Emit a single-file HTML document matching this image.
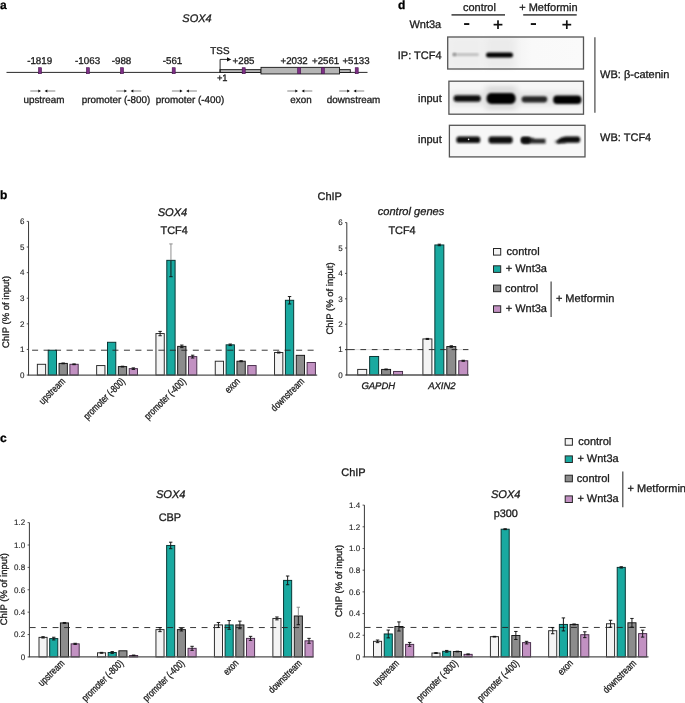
<!DOCTYPE html><html><head><meta charset="utf-8"><title>Figure</title><style>html,body{margin:0;padding:0;background:#fff}svg{display:block;font-family:"Liberation Sans", Arial, sans-serif;text-rendering:geometricPrecision}text{stroke:#1a1a1a;stroke-width:0.3px;paint-order:stroke}</style></head><body>
<svg width="685" height="703" viewBox="0 0 685 703">
<rect width="685" height="703" fill="#fff"/>
<text x="0" y="9" font-size="12" text-anchor="start" font-weight="bold" fill="#000">a</text>
<text x="182.3" y="22" font-size="11" text-anchor="start" font-style="italic" fill="#1a1a1a">SOX4</text>
<line x1="6.5" y1="72.4" x2="367.5" y2="72.4" stroke="#111" stroke-width="0.9"/>
<rect x="220" y="69.65" width="41" height="2.85" fill="#B5B5B5" stroke="#151515" stroke-width="0.9"/>
<rect x="339.5" y="69.65" width="10.8" height="2.85" fill="#B5B5B5" stroke="#151515" stroke-width="0.9"/>
<rect x="261" y="67.35" width="78.5" height="6.6" fill="#B5B5B5" stroke="#151515" stroke-width="0.9"/>
<rect x="38.5" y="67.7" width="3" height="6" fill="#7E2F86" stroke="#45134c" stroke-width="0.6"/>
<rect x="86.4" y="67.7" width="3" height="6" fill="#7E2F86" stroke="#45134c" stroke-width="0.6"/>
<rect x="120.5" y="67.7" width="3" height="6" fill="#7E2F86" stroke="#45134c" stroke-width="0.6"/>
<rect x="172.2" y="67.7" width="3" height="6" fill="#7E2F86" stroke="#45134c" stroke-width="0.6"/>
<rect x="242.2" y="67.7" width="3" height="6" fill="#7E2F86" stroke="#45134c" stroke-width="0.6"/>
<rect x="297.7" y="67.7" width="3" height="6" fill="#7E2F86" stroke="#45134c" stroke-width="0.6"/>
<rect x="321.3" y="67.7" width="3" height="6" fill="#7E2F86" stroke="#45134c" stroke-width="0.6"/>
<rect x="355.2" y="67.7" width="3" height="6" fill="#7E2F86" stroke="#45134c" stroke-width="0.6"/>
<text x="39.7" y="63.7" font-size="9.8" text-anchor="middle" fill="#1a1a1a">-1819</text>
<text x="87.6" y="63.7" font-size="9.8" text-anchor="middle" fill="#1a1a1a">-1063</text>
<text x="121.5" y="63.7" font-size="9.8" text-anchor="middle" fill="#1a1a1a">-988</text>
<text x="172.5" y="63.7" font-size="9.8" text-anchor="middle" fill="#1a1a1a">-561</text>
<text x="232.6" y="63.6" font-size="9.7" text-anchor="start" fill="#1a1a1a">+285</text>
<text x="280.5" y="63.6" font-size="9.7" text-anchor="start" fill="#1a1a1a">+2032</text>
<text x="312" y="63.6" font-size="9.7" text-anchor="start" fill="#1a1a1a">+2561</text>
<text x="342.4" y="63.6" font-size="9.7" text-anchor="start" fill="#1a1a1a">+5133</text>
<text x="210.3" y="53.5" font-size="9.9" text-anchor="start" fill="#1a1a1a">TSS</text>
<text x="216.9" y="81.0" font-size="9.4" text-anchor="start" fill="#1a1a1a">+1</text>
<path d="M220.1 72.4 V59.4 H228" fill="none" stroke="#111" stroke-width="0.9"/>
<path d="M227 57.2 L231.3 59.4 L227 61.6 Z" fill="#111"/>
<path d="M30.299999999999997 91 H39.3" stroke="#333" stroke-width="0.6"/><path d="M38.3 89.5 L41.0 91 L38.3 92.5 Z" fill="#111"/>
<path d="M55.3 91 H46.3" stroke="#333" stroke-width="0.6"/><path d="M47.3 89.5 L44.599999999999994 91 L47.3 92.5 Z" fill="#111"/>
<path d="M116.30000000000001 91 H125.30000000000001" stroke="#333" stroke-width="0.6"/><path d="M124.30000000000001 89.5 L127.00000000000001 91 L124.30000000000001 92.5 Z" fill="#111"/>
<path d="M141.3 91 H132.3" stroke="#333" stroke-width="0.6"/><path d="M133.3 89.5 L130.60000000000002 91 L133.3 92.5 Z" fill="#111"/>
<path d="M171.9 91 H180.9" stroke="#333" stroke-width="0.6"/><path d="M179.9 89.5 L182.6 91 L179.9 92.5 Z" fill="#111"/>
<path d="M196.9 91 H187.9" stroke="#333" stroke-width="0.6"/><path d="M188.9 89.5 L186.20000000000002 91 L188.9 92.5 Z" fill="#111"/>
<path d="M287.3 91 H296.3" stroke="#333" stroke-width="0.6"/><path d="M295.3 89.5 L298.0 91 L295.3 92.5 Z" fill="#111"/>
<path d="M312.3 91 H303.3" stroke="#333" stroke-width="0.6"/><path d="M304.3 89.5 L301.6 91 L304.3 92.5 Z" fill="#111"/>
<path d="M339.2 91 H348.2" stroke="#333" stroke-width="0.6"/><path d="M347.2 89.5 L349.9 91 L347.2 92.5 Z" fill="#111"/>
<path d="M364.2 91 H355.2" stroke="#333" stroke-width="0.6"/><path d="M356.2 89.5 L353.5 91 L356.2 92.5 Z" fill="#111"/>
<text x="44" y="102.7" font-size="9.85" text-anchor="middle" fill="#1a1a1a">upstream</text>
<text x="116" y="102.7" font-size="9.85" text-anchor="middle" fill="#1a1a1a">promoter (-800)</text>
<text x="190" y="102.7" font-size="9.85" text-anchor="middle" fill="#1a1a1a">promoter (-400)</text>
<text x="301" y="102.7" font-size="9.85" text-anchor="middle" fill="#1a1a1a">exon</text>
<text x="353.5" y="102.7" font-size="9.85" text-anchor="middle" fill="#1a1a1a">downstream</text>
<defs>
<linearGradient id="g1" x1="0" x2="1" y1="0" y2="0"><stop offset="0" stop-color="#F1F1F1"/><stop offset="0.5" stop-color="#F4F4F4"/><stop offset="0.62" stop-color="#F9F9F9"/><stop offset="1" stop-color="#FAFAFA"/></linearGradient>
<filter id="b1" x="-20%" y="-50%" width="140%" height="200%"><feGaussianBlur stdDeviation="1.1 0.9"/></filter>
<filter id="b2" x="-20%" y="-50%" width="140%" height="200%"><feGaussianBlur stdDeviation="1.4 1.2"/></filter>
<filter id="b4" x="-20%" y="-50%" width="140%" height="200%"><feGaussianBlur stdDeviation="0.9 0.8"/></filter>
<filter id="b5" x="-20%" y="-50%" width="140%" height="200%"><feGaussianBlur stdDeviation="1.1 1.0"/></filter>
<filter id="b3" x="-30%" y="-30%" width="160%" height="160%"><feGaussianBlur stdDeviation="3 2"/></filter>
</defs>
<text x="398" y="9.2" font-size="12" text-anchor="start" font-weight="bold" fill="#000">d</text>
<text x="462.9" y="11.2" font-size="11" text-anchor="start" fill="#1a1a1a">control</text>
<text x="519.2" y="11.2" font-size="11" text-anchor="start" fill="#1a1a1a">+ Metformin</text>
<line x1="451.5" y1="14.9" x2="505" y2="14.9" stroke="#555" stroke-width="1.6"/>
<line x1="523.2" y1="14.9" x2="576.7" y2="14.9" stroke="#555" stroke-width="1.6"/>
<text x="409.4" y="27.9" font-size="11" text-anchor="start" fill="#1a1a1a">Wnt3a</text>
<rect x="464.09999999999997" y="23.1" width="5.2" height="1.9" fill="#111"/>
<rect x="530.8" y="23.1" width="5.2" height="1.9" fill="#111"/>
<rect x="493.6" y="23.8" width="8.8" height="1.7" fill="#111"/><rect x="497.15" y="20.3" width="1.7" height="8.7" fill="#111"/>
<rect x="562.4" y="23.8" width="8.8" height="1.7" fill="#111"/><rect x="565.9499999999999" y="20.3" width="1.7" height="8.7" fill="#111"/>
<rect x="447.7" y="37" width="135.8" height="32" fill="url(#g1)"/>
<rect x="450" y="38" width="32" height="30" fill="#EEEEEE" filter="url(#b3)"/>
<rect x="485" y="38" width="30" height="30" fill="#EBEBEB" filter="url(#b3)"/>
<rect x="452" y="53.3" width="27" height="2.6" rx="1.3" fill="#BDBDBD" filter="url(#b1)"/>
<ellipse cx="454.5" cy="54.5" rx="1.6" ry="1.4" fill="#888" filter="url(#b1)"/>
<rect x="486" y="52.4" width="27" height="5" rx="2.5" fill="#050505" filter="url(#b1)"/>
<rect x="447.7" y="37" width="135.8" height="32" fill="none" stroke="#555" stroke-width="1.3"/>
<rect x="448.9" y="81.2" width="134.6" height="33" fill="#F6F6F6"/>
<rect x="452" y="91" width="129" height="15" fill="#E6E6E6" filter="url(#b3)"/>
<rect x="486" y="86" width="30" height="24" fill="#DADADA" filter="url(#b3)"/>
<rect x="453.6" y="95.2" width="27.2" height="6.6" rx="3" fill="#0a0a0a" filter="url(#b5)"/>
<rect x="486.6" y="93.1" width="29" height="10.8" rx="4.6" fill="#000" filter="url(#b5)"/>
<rect x="521.6" y="96.2" width="25.6" height="6.2" rx="2.8" fill="#262626" filter="url(#b5)"/>
<rect x="553.2" y="95.4" width="28.2" height="8.6" rx="3.8" fill="#050505" filter="url(#b5)"/>
<rect x="448.9" y="81.2" width="134.6" height="33" fill="none" stroke="#555" stroke-width="1.3"/>
<rect x="449.4" y="125.3" width="135.6" height="31.6" fill="#F7F7F7"/>
<rect x="456.4" y="136.4" width="23.8" height="6.6" rx="2.6" fill="#0a0a0a" filter="url(#b4)"/>
<circle cx="468.6" cy="139.4" r="0.8" fill="#e8e8e8"/>
<rect x="488.6" y="136.5" width="24" height="6.9" rx="2.6" fill="#0a0a0a" filter="url(#b4)"/>
<path d="M521.5 137.2 h8 q3 0 5.5 1.6 h10.5 v4.8 h-21.5 q-3 0 -3 -3 z" fill="#2a2a2a" filter="url(#b4)"/>
<rect x="521.3" y="137" width="9" height="6.6" rx="2.5" fill="#0a0a0a" filter="url(#b4)"/>
<rect x="555" y="140" width="11" height="3.6" rx="1.5" fill="#777" filter="url(#b2)"/>
<path d="M557 141.4 q3 -4.6 9 -4.9 h11.6 q2.6 0 2.6 3 q0 3.2 -2.6 3.2 h-14.6 q-4 0 -5 1 z" fill="#0c0c0c" filter="url(#b4)"/>
<rect x="449.4" y="125.3" width="135.6" height="31.6" fill="none" stroke="#555" stroke-width="1.3"/>
<text x="441.6" y="58.5" font-size="11" text-anchor="end" fill="#1a1a1a">IP: TCF4</text>
<text x="441.8" y="101.5" font-size="11" text-anchor="end" fill="#1a1a1a">input</text>
<text x="441.8" y="143.1" font-size="11" text-anchor="end" fill="#1a1a1a">input</text>
<line x1="594.9" y1="37.3" x2="594.9" y2="112.7" stroke="#555" stroke-width="1.3"/>
<text x="600.1" y="77.6" font-size="11" text-anchor="start" fill="#1a1a1a">WB: β-catenin</text>
<text x="600.1" y="140.9" font-size="11" text-anchor="start" fill="#1a1a1a">WB: TCF4</text>
<text x="0" y="198.6" font-size="12" text-anchor="start" font-weight="bold" fill="#000">b</text>
<text x="317.5" y="199.9" font-size="11" text-anchor="start" fill="#1a1a1a">ChIP</text>
<text x="157.7" y="215.5" font-size="11.1" text-anchor="start" font-style="italic" fill="#1a1a1a">SOX4</text>
<text x="160.5" y="234.3" font-size="10.9" text-anchor="start" fill="#1a1a1a">TCF4</text>
<rect x="37.35" y="364.29" width="8.30" height="10.76" fill="#F4F4F4" stroke="#262626" stroke-width="0.95"/>
<rect x="48.20" y="350.21" width="8.30" height="24.84" fill="#19A9A0" stroke="#04302e" stroke-width="0.95"/>
<rect x="59.05" y="363.40" width="8.30" height="11.65" fill="#8C8C8C" stroke="#141414" stroke-width="0.95"/>
<rect x="69.90" y="364.29" width="8.30" height="10.76" fill="#C291C2" stroke="#452a48" stroke-width="0.95"/>
<rect x="96.65" y="365.57" width="8.30" height="9.48" fill="#F4F4F4" stroke="#262626" stroke-width="0.95"/>
<rect x="107.50" y="342.27" width="8.30" height="32.78" fill="#19A9A0" stroke="#04302e" stroke-width="0.95"/>
<rect x="118.35" y="366.60" width="8.30" height="8.45" fill="#8C8C8C" stroke="#141414" stroke-width="0.95"/>
<rect x="129.20" y="368.65" width="8.30" height="6.40" fill="#C291C2" stroke="#452a48" stroke-width="0.95"/>
<rect x="155.95" y="333.56" width="8.30" height="41.49" fill="#F4F4F4" stroke="#262626" stroke-width="0.95"/>
<rect x="166.80" y="260.32" width="8.30" height="114.73" fill="#19A9A0" stroke="#04302e" stroke-width="0.95"/>
<rect x="177.65" y="346.37" width="8.30" height="28.68" fill="#8C8C8C" stroke="#141414" stroke-width="0.95"/>
<rect x="188.50" y="356.61" width="8.30" height="18.44" fill="#C291C2" stroke="#452a48" stroke-width="0.95"/>
<rect x="215.25" y="361.22" width="8.30" height="13.83" fill="#F4F4F4" stroke="#262626" stroke-width="0.95"/>
<rect x="226.10" y="344.83" width="8.30" height="30.22" fill="#19A9A0" stroke="#04302e" stroke-width="0.95"/>
<rect x="236.95" y="361.22" width="8.30" height="13.83" fill="#8C8C8C" stroke="#141414" stroke-width="0.95"/>
<rect x="247.80" y="365.57" width="8.30" height="9.48" fill="#C291C2" stroke="#452a48" stroke-width="0.95"/>
<rect x="274.55" y="352.51" width="8.30" height="22.54" fill="#F4F4F4" stroke="#262626" stroke-width="0.95"/>
<rect x="285.40" y="300.27" width="8.30" height="74.78" fill="#19A9A0" stroke="#04302e" stroke-width="0.95"/>
<rect x="296.25" y="355.33" width="8.30" height="19.72" fill="#8C8C8C" stroke="#141414" stroke-width="0.95"/>
<rect x="307.10" y="362.50" width="8.30" height="12.55" fill="#C291C2" stroke="#452a48" stroke-width="0.95"/>
<line x1="32.10" y1="350.21" x2="316.7" y2="350.21" stroke="#222" stroke-width="0.9" stroke-dasharray="6 5.48"/>
<path d="M63.20 363.01 V363.40 M61.50 363.01 H64.90" stroke="#111" stroke-width="0.95" fill="none"/>
<path d="M63.20 363.40 V363.78 M61.50 363.78 H64.90" stroke="#111" stroke-width="0.95" fill="none"/>
<path d="M74.05 363.91 V364.29 M72.35 363.91 H75.75" stroke="#111" stroke-width="0.95" fill="none"/>
<path d="M74.05 364.29 V364.68 M72.35 364.68 H75.75" stroke="#111" stroke-width="0.95" fill="none"/>
<path d="M122.50 366.21 V366.60 M120.80 366.21 H124.20" stroke="#111" stroke-width="0.95" fill="none"/>
<path d="M122.50 366.60 V366.98 M120.80 366.98 H124.20" stroke="#111" stroke-width="0.95" fill="none"/>
<path d="M133.35 367.88 V368.65 M131.65 367.88 H135.05" stroke="#111" stroke-width="0.95" fill="none"/>
<path d="M133.35 368.65 V369.42 M131.65 369.42 H135.05" stroke="#111" stroke-width="0.95" fill="none"/>
<path d="M160.10 331.38 V333.56 M158.40 331.38 H161.80" stroke="#111" stroke-width="0.95" fill="none"/>
<path d="M160.10 333.56 V335.74 M158.40 335.74 H161.80" stroke="#111" stroke-width="0.95" fill="none"/>
<path d="M170.95 243.93 V260.32 M169.25 243.93 H172.65" stroke="#8a8a8a" stroke-width="0.95" fill="none"/>
<path d="M170.95 260.32 V276.71 M169.25 276.71 H172.65" stroke="#111" stroke-width="0.95" fill="none"/>
<path d="M181.80 345.09 V346.37 M180.10 345.09 H183.50" stroke="#111" stroke-width="0.95" fill="none"/>
<path d="M181.80 346.37 V347.65 M180.10 347.65 H183.50" stroke="#111" stroke-width="0.95" fill="none"/>
<path d="M192.65 355.20 V356.61 M190.95 355.20 H194.35" stroke="#111" stroke-width="0.95" fill="none"/>
<path d="M192.65 356.61 V358.02 M190.95 358.02 H194.35" stroke="#111" stroke-width="0.95" fill="none"/>
<path d="M230.25 344.06 V344.83 M228.55 344.06 H231.95" stroke="#111" stroke-width="0.95" fill="none"/>
<path d="M230.25 344.83 V345.60 M228.55 345.60 H231.95" stroke="#111" stroke-width="0.95" fill="none"/>
<path d="M241.10 360.71 V361.22 M239.40 360.71 H242.80" stroke="#111" stroke-width="0.95" fill="none"/>
<path d="M241.10 361.22 V361.73 M239.40 361.73 H242.80" stroke="#111" stroke-width="0.95" fill="none"/>
<path d="M278.70 352.00 V352.51 M277.00 352.00 H280.40" stroke="#111" stroke-width="0.95" fill="none"/>
<path d="M278.70 352.51 V353.03 M277.00 353.03 H280.40" stroke="#111" stroke-width="0.95" fill="none"/>
<path d="M289.55 296.56 V300.27 M287.85 296.56 H291.25" stroke="#111" stroke-width="0.95" fill="none"/>
<path d="M289.55 300.27 V303.98 M287.85 303.98 H291.25" stroke="#111" stroke-width="0.95" fill="none"/>
<path d="M27.900000000000002 375.05 H317.2" fill="none" stroke="#505050" stroke-width="1.3"/>
<path d="M28.55 221.39 V375.05" fill="none" stroke="#383838" stroke-width="1"/>
<line x1="26.75" y1="375.05" x2="28.55" y2="375.05" stroke="#383838" stroke-width="0.85"/>
<text x="24.35" y="377.90" font-size="8" text-anchor="end" fill="#222" style="stroke-width:0.12px">0</text>
<line x1="26.75" y1="349.44" x2="28.55" y2="349.44" stroke="#383838" stroke-width="0.85"/>
<text x="24.35" y="352.29" font-size="8" text-anchor="end" fill="#222" style="stroke-width:0.12px">1</text>
<line x1="26.75" y1="323.83" x2="28.55" y2="323.83" stroke="#383838" stroke-width="0.85"/>
<text x="24.35" y="326.68" font-size="8" text-anchor="end" fill="#222" style="stroke-width:0.12px">2</text>
<line x1="26.75" y1="298.22" x2="28.55" y2="298.22" stroke="#383838" stroke-width="0.85"/>
<text x="24.35" y="301.07" font-size="8" text-anchor="end" fill="#222" style="stroke-width:0.12px">3</text>
<line x1="26.75" y1="272.61" x2="28.55" y2="272.61" stroke="#383838" stroke-width="0.85"/>
<text x="24.35" y="275.46" font-size="8" text-anchor="end" fill="#222" style="stroke-width:0.12px">4</text>
<line x1="26.75" y1="247.00" x2="28.55" y2="247.00" stroke="#383838" stroke-width="0.85"/>
<text x="24.35" y="249.85" font-size="8" text-anchor="end" fill="#222" style="stroke-width:0.12px">5</text>
<line x1="26.75" y1="221.39" x2="28.55" y2="221.39" stroke="#383838" stroke-width="0.85"/>
<text x="24.35" y="224.24" font-size="8" text-anchor="end" fill="#222" style="stroke-width:0.12px">6</text>
<text transform="translate(9,312) rotate(-90)" font-size="9.5" text-anchor="middle" fill="#1a1a1a">ChIP (% of input)</text>
<text transform="translate(65.9,381.9) rotate(-45) scale(0.78,1)" font-size="10" text-anchor="end" fill="#1a1a1a">upstream</text>
<text transform="translate(125.7,381.9) rotate(-45) scale(0.78,1)" font-size="10" text-anchor="end" fill="#1a1a1a">promoter (-800)</text>
<text transform="translate(186.5,381.9) rotate(-45) scale(0.78,1)" font-size="10" text-anchor="end" fill="#1a1a1a">promoter (-400)</text>
<text transform="translate(240.6,381.9) rotate(-45) scale(0.78,1)" font-size="10" text-anchor="end" fill="#1a1a1a">exon</text>
<text transform="translate(304.9,381.9) rotate(-45) scale(0.78,1)" font-size="10" text-anchor="end" fill="#1a1a1a">downstream</text>
<text x="377.7" y="215.3" font-size="11.1" text-anchor="start" font-style="italic" fill="#1a1a1a">control genes</text>
<text x="388.4" y="234.4" font-size="10.9" text-anchor="start" fill="#1a1a1a">TCF4</text>
<line x1="346.8" y1="349.6" x2="469" y2="349.6" stroke="#c4c4c4" stroke-width="0.6"/>
<rect x="357.70" y="369.41" width="9.00" height="5.59" fill="#F4F4F4" stroke="#262626" stroke-width="0.95"/>
<rect x="369.65" y="356.46" width="9.00" height="18.54" fill="#19A9A0" stroke="#04302e" stroke-width="0.95"/>
<rect x="381.60" y="369.41" width="9.00" height="5.59" fill="#8C8C8C" stroke="#141414" stroke-width="0.95"/>
<rect x="393.55" y="371.44" width="9.00" height="3.56" fill="#C291C2" stroke="#452a48" stroke-width="0.95"/>
<rect x="422.90" y="338.93" width="9.00" height="36.07" fill="#F4F4F4" stroke="#262626" stroke-width="0.95"/>
<rect x="434.85" y="244.95" width="9.00" height="130.05" fill="#19A9A0" stroke="#04302e" stroke-width="0.95"/>
<rect x="446.80" y="346.55" width="9.00" height="28.45" fill="#8C8C8C" stroke="#141414" stroke-width="0.95"/>
<rect x="458.75" y="360.78" width="9.00" height="14.22" fill="#C291C2" stroke="#452a48" stroke-width="0.95"/>
<line x1="349.00" y1="349.60" x2="468.3" y2="349.60" stroke="#222" stroke-width="0.9" stroke-dasharray="5.7 5.7"/>
<path d="M386.10 369.03 V369.41 M384.40 369.03 H387.80" stroke="#111" stroke-width="0.95" fill="none"/>
<path d="M386.10 369.41 V369.79 M384.40 369.79 H387.80" stroke="#111" stroke-width="0.95" fill="none"/>
<path d="M427.40 338.42 V338.93 M425.70 338.42 H429.10" stroke="#111" stroke-width="0.95" fill="none"/>
<path d="M427.40 338.93 V339.44 M425.70 339.44 H429.10" stroke="#111" stroke-width="0.95" fill="none"/>
<path d="M439.35 244.19 V244.95 M437.65 244.19 H441.05" stroke="#111" stroke-width="0.95" fill="none"/>
<path d="M439.35 244.95 V245.71 M437.65 245.71 H441.05" stroke="#111" stroke-width="0.95" fill="none"/>
<path d="M451.30 345.79 V346.55 M449.60 345.79 H453.00" stroke="#111" stroke-width="0.95" fill="none"/>
<path d="M451.30 346.55 V347.31 M449.60 347.31 H453.00" stroke="#111" stroke-width="0.95" fill="none"/>
<path d="M463.25 360.27 V360.78 M461.55 360.27 H464.95" stroke="#111" stroke-width="0.95" fill="none"/>
<path d="M463.25 360.78 V361.28 M461.55 361.28 H464.95" stroke="#111" stroke-width="0.95" fill="none"/>
<path d="M346.15000000000003 375.0 H468.8" fill="none" stroke="#505050" stroke-width="1.3"/>
<path d="M346.8 222.60 V375.0" fill="none" stroke="#383838" stroke-width="1"/>
<line x1="345.0" y1="375.00" x2="346.8" y2="375.00" stroke="#383838" stroke-width="0.85"/>
<text x="342.6" y="377.85" font-size="8" text-anchor="end" fill="#222" style="stroke-width:0.12px">0</text>
<line x1="345.0" y1="349.60" x2="346.8" y2="349.60" stroke="#383838" stroke-width="0.85"/>
<text x="342.6" y="352.45" font-size="8" text-anchor="end" fill="#222" style="stroke-width:0.12px">1</text>
<line x1="345.0" y1="324.20" x2="346.8" y2="324.20" stroke="#383838" stroke-width="0.85"/>
<text x="342.6" y="327.05" font-size="8" text-anchor="end" fill="#222" style="stroke-width:0.12px">2</text>
<line x1="345.0" y1="298.80" x2="346.8" y2="298.80" stroke="#383838" stroke-width="0.85"/>
<text x="342.6" y="301.65" font-size="8" text-anchor="end" fill="#222" style="stroke-width:0.12px">3</text>
<line x1="345.0" y1="273.40" x2="346.8" y2="273.40" stroke="#383838" stroke-width="0.85"/>
<text x="342.6" y="276.25" font-size="8" text-anchor="end" fill="#222" style="stroke-width:0.12px">4</text>
<line x1="345.0" y1="248.00" x2="346.8" y2="248.00" stroke="#383838" stroke-width="0.85"/>
<text x="342.6" y="250.85" font-size="8" text-anchor="end" fill="#222" style="stroke-width:0.12px">5</text>
<line x1="345.0" y1="222.60" x2="346.8" y2="222.60" stroke="#383838" stroke-width="0.85"/>
<text x="342.6" y="225.45" font-size="8" text-anchor="end" fill="#222" style="stroke-width:0.12px">6</text>
<text transform="translate(333,298.5) rotate(-90)" font-size="9.5" text-anchor="middle" fill="#1a1a1a">ChIP (% of input)</text>
<text x="378.3" y="388.5" font-size="9.5" text-anchor="middle" font-style="italic" fill="#1a1a1a">GAPDH</text>
<text x="441.9" y="388.5" font-size="9.5" text-anchor="middle" font-style="italic" fill="#1a1a1a">AXIN2</text>
<line x1="345.3" y1="349.6" x2="349" y2="349.6" stroke="#333" stroke-width="0.95"/>
<rect x="493.5" y="248.5" width="7.2" height="6.6" fill="#F4F4F4" stroke="#262626" stroke-width="1"/>
<text x="506.6" y="254.9" font-size="11" text-anchor="start" fill="#1a1a1a">control</text>
<rect x="493.5" y="265.8" width="7.2" height="6.6" fill="#19A9A0" stroke="#262626" stroke-width="1"/>
<text x="505.7" y="272.2" font-size="11" text-anchor="start" fill="#1a1a1a">+ Wnt3a</text>
<rect x="493.5" y="285.1" width="7.2" height="6.6" fill="#8C8C8C" stroke="#262626" stroke-width="1"/>
<text x="505.1" y="291.5" font-size="11" text-anchor="start" fill="#1a1a1a">control</text>
<rect x="493.5" y="305.8" width="7.2" height="6.6" fill="#C291C2" stroke="#262626" stroke-width="1"/>
<text x="505.7" y="312.2" font-size="11" text-anchor="start" fill="#1a1a1a">+ Wnt3a</text>
<line x1="551.1" y1="281.5" x2="551.1" y2="317.1" stroke="#444" stroke-width="1.2"/>
<text x="555.9" y="302.1" font-size="11" text-anchor="start" fill="#1a1a1a">+ Metformin</text>
<text x="0" y="442" font-size="12" text-anchor="start" font-weight="bold" fill="#000">c</text>
<text x="341.2" y="475.5" font-size="11" text-anchor="start" fill="#1a1a1a">ChIP</text>
<text x="155.9" y="497.5" font-size="11.1" text-anchor="start" font-style="italic" fill="#1a1a1a">SOX4</text>
<text x="158.7" y="521.3" font-size="10.9" text-anchor="start" fill="#1a1a1a">CBP</text>
<rect x="39.00" y="637.36" width="8.10" height="19.59" fill="#F4F4F4" stroke="#262626" stroke-width="0.95"/>
<rect x="49.70" y="638.59" width="8.10" height="18.36" fill="#19A9A0" stroke="#04302e" stroke-width="0.95"/>
<rect x="60.40" y="622.92" width="8.10" height="34.03" fill="#8C8C8C" stroke="#141414" stroke-width="0.95"/>
<rect x="71.10" y="643.85" width="8.10" height="13.10" fill="#C291C2" stroke="#452a48" stroke-width="0.95"/>
<rect x="97.47" y="652.81" width="8.10" height="4.14" fill="#F4F4F4" stroke="#262626" stroke-width="0.95"/>
<rect x="108.17" y="652.47" width="8.10" height="4.48" fill="#19A9A0" stroke="#04302e" stroke-width="0.95"/>
<rect x="118.87" y="650.79" width="8.10" height="6.16" fill="#8C8C8C" stroke="#141414" stroke-width="0.95"/>
<rect x="129.57" y="655.49" width="8.10" height="1.46" fill="#C291C2" stroke="#452a48" stroke-width="0.95"/>
<rect x="155.94" y="629.63" width="8.10" height="27.32" fill="#F4F4F4" stroke="#262626" stroke-width="0.95"/>
<rect x="166.64" y="545.45" width="8.10" height="111.50" fill="#19A9A0" stroke="#04302e" stroke-width="0.95"/>
<rect x="177.34" y="629.63" width="8.10" height="27.32" fill="#8C8C8C" stroke="#141414" stroke-width="0.95"/>
<rect x="188.04" y="648.33" width="8.10" height="8.62" fill="#C291C2" stroke="#452a48" stroke-width="0.95"/>
<rect x="214.41" y="624.93" width="8.10" height="32.02" fill="#F4F4F4" stroke="#262626" stroke-width="0.95"/>
<rect x="225.11" y="624.93" width="8.10" height="32.02" fill="#19A9A0" stroke="#04302e" stroke-width="0.95"/>
<rect x="235.81" y="624.93" width="8.10" height="32.02" fill="#8C8C8C" stroke="#141414" stroke-width="0.95"/>
<rect x="246.51" y="638.37" width="8.10" height="18.58" fill="#C291C2" stroke="#452a48" stroke-width="0.95"/>
<rect x="272.88" y="618.44" width="8.10" height="38.51" fill="#F4F4F4" stroke="#262626" stroke-width="0.95"/>
<rect x="283.58" y="580.38" width="8.10" height="76.57" fill="#19A9A0" stroke="#04302e" stroke-width="0.95"/>
<rect x="294.28" y="615.98" width="8.10" height="40.97" fill="#8C8C8C" stroke="#141414" stroke-width="0.95"/>
<rect x="304.98" y="640.83" width="8.10" height="16.12" fill="#C291C2" stroke="#452a48" stroke-width="0.95"/>
<line x1="29.70" y1="627.56" x2="313.0" y2="627.56" stroke="#222" stroke-width="0.9" stroke-dasharray="5.9 5.56"/>
<path d="M43.05 636.69 V637.36 M41.35 636.69 H44.75" stroke="#111" stroke-width="0.95" fill="none"/>
<path d="M43.05 637.36 V638.03 M41.35 638.03 H44.75" stroke="#111" stroke-width="0.95" fill="none"/>
<path d="M53.75 637.25 V638.59 M52.05 637.25 H55.45" stroke="#111" stroke-width="0.95" fill="none"/>
<path d="M53.75 638.59 V639.93 M52.05 639.93 H55.45" stroke="#111" stroke-width="0.95" fill="none"/>
<path d="M64.45 622.47 V622.92 M62.75 622.47 H66.15" stroke="#111" stroke-width="0.95" fill="none"/>
<path d="M64.45 622.92 V623.37 M62.75 623.37 H66.15" stroke="#111" stroke-width="0.95" fill="none"/>
<path d="M75.15 643.29 V643.85 M73.45 643.29 H76.85" stroke="#111" stroke-width="0.95" fill="none"/>
<path d="M75.15 643.85 V644.41 M73.45 644.41 H76.85" stroke="#111" stroke-width="0.95" fill="none"/>
<path d="M101.52 652.36 V652.81 M99.82 652.36 H103.22" stroke="#111" stroke-width="0.95" fill="none"/>
<path d="M101.52 652.81 V653.26 M99.82 653.26 H103.22" stroke="#111" stroke-width="0.95" fill="none"/>
<path d="M112.22 651.58 V652.47 M110.52 651.58 H113.92" stroke="#111" stroke-width="0.95" fill="none"/>
<path d="M112.22 652.47 V653.37 M110.52 653.37 H113.92" stroke="#111" stroke-width="0.95" fill="none"/>
<path d="M133.62 655.05 V655.49 M131.92 655.05 H135.32" stroke="#111" stroke-width="0.95" fill="none"/>
<path d="M133.62 655.49 V655.94 M131.92 655.94 H135.32" stroke="#111" stroke-width="0.95" fill="none"/>
<path d="M159.99 627.62 V629.63 M158.29 627.62 H161.69" stroke="#111" stroke-width="0.95" fill="none"/>
<path d="M159.99 629.63 V631.65 M158.29 631.65 H161.69" stroke="#111" stroke-width="0.95" fill="none"/>
<path d="M170.69 542.20 V545.45 M168.99 542.20 H172.39" stroke="#111" stroke-width="0.95" fill="none"/>
<path d="M170.69 545.45 V548.69 M168.99 548.69 H172.39" stroke="#111" stroke-width="0.95" fill="none"/>
<path d="M181.39 628.29 V629.63 M179.69 628.29 H183.09" stroke="#111" stroke-width="0.95" fill="none"/>
<path d="M181.39 629.63 V630.98 M179.69 630.98 H183.09" stroke="#111" stroke-width="0.95" fill="none"/>
<path d="M192.09 646.31 V648.33 M190.39 646.31 H193.79" stroke="#111" stroke-width="0.95" fill="none"/>
<path d="M192.09 648.33 V650.34 M190.39 650.34 H193.79" stroke="#111" stroke-width="0.95" fill="none"/>
<path d="M218.46 622.47 V624.93 M216.76 622.47 H220.16" stroke="#111" stroke-width="0.95" fill="none"/>
<path d="M218.46 624.93 V627.40 M216.76 627.40 H220.16" stroke="#111" stroke-width="0.95" fill="none"/>
<path d="M229.16 620.57 V624.93 M227.46 620.57 H230.86" stroke="#111" stroke-width="0.95" fill="none"/>
<path d="M229.16 624.93 V629.30 M227.46 629.30 H230.86" stroke="#111" stroke-width="0.95" fill="none"/>
<path d="M239.86 621.13 V624.93 M238.16 621.13 H241.56" stroke="#111" stroke-width="0.95" fill="none"/>
<path d="M239.86 624.93 V628.74 M238.16 628.74 H241.56" stroke="#111" stroke-width="0.95" fill="none"/>
<path d="M250.56 636.35 V638.37 M248.86 636.35 H252.26" stroke="#111" stroke-width="0.95" fill="none"/>
<path d="M250.56 638.37 V640.38 M248.86 640.38 H252.26" stroke="#111" stroke-width="0.95" fill="none"/>
<path d="M276.93 616.98 V618.44 M275.23 616.98 H278.63" stroke="#111" stroke-width="0.95" fill="none"/>
<path d="M276.93 618.44 V619.89 M275.23 619.89 H278.63" stroke="#111" stroke-width="0.95" fill="none"/>
<path d="M287.63 576.01 V580.38 M285.93 576.01 H289.33" stroke="#111" stroke-width="0.95" fill="none"/>
<path d="M287.63 580.38 V584.74 M285.93 584.74 H289.33" stroke="#111" stroke-width="0.95" fill="none"/>
<path d="M298.33 607.24 V615.98 M296.63 607.24 H300.03" stroke="#8a8a8a" stroke-width="0.95" fill="none"/>
<path d="M298.33 615.98 V624.71 M296.63 624.71 H300.03" stroke="#111" stroke-width="0.95" fill="none"/>
<path d="M309.03 638.37 V640.83 M307.33 638.37 H310.73" stroke="#111" stroke-width="0.95" fill="none"/>
<path d="M309.03 640.83 V643.29 M307.33 643.29 H310.73" stroke="#111" stroke-width="0.95" fill="none"/>
<path d="M28.75 656.95 H313.5" fill="none" stroke="#505050" stroke-width="1.3"/>
<path d="M29.4 522.61 V656.95" fill="none" stroke="#383838" stroke-width="1"/>
<line x1="27.599999999999998" y1="656.95" x2="29.4" y2="656.95" stroke="#383838" stroke-width="0.85"/>
<text x="25.2" y="659.80" font-size="8" text-anchor="end" fill="#222" style="stroke-width:0.12px">0</text>
<line x1="27.599999999999998" y1="634.56" x2="29.4" y2="634.56" stroke="#383838" stroke-width="0.85"/>
<text x="25.2" y="637.41" font-size="8" text-anchor="end" fill="#222" style="stroke-width:0.12px">0.2</text>
<line x1="27.599999999999998" y1="612.17" x2="29.4" y2="612.17" stroke="#383838" stroke-width="0.85"/>
<text x="25.2" y="615.02" font-size="8" text-anchor="end" fill="#222" style="stroke-width:0.12px">0.4</text>
<line x1="27.599999999999998" y1="589.78" x2="29.4" y2="589.78" stroke="#383838" stroke-width="0.85"/>
<text x="25.2" y="592.63" font-size="8" text-anchor="end" fill="#222" style="stroke-width:0.12px">0.6</text>
<line x1="27.599999999999998" y1="567.39" x2="29.4" y2="567.39" stroke="#383838" stroke-width="0.85"/>
<text x="25.2" y="570.24" font-size="8" text-anchor="end" fill="#222" style="stroke-width:0.12px">0.8</text>
<line x1="27.599999999999998" y1="545.00" x2="29.4" y2="545.00" stroke="#383838" stroke-width="0.85"/>
<text x="25.2" y="547.85" font-size="8" text-anchor="end" fill="#222" style="stroke-width:0.12px">1.0</text>
<line x1="27.599999999999998" y1="522.61" x2="29.4" y2="522.61" stroke="#383838" stroke-width="0.85"/>
<text x="25.2" y="525.46" font-size="8" text-anchor="end" fill="#222" style="stroke-width:0.12px">1.2</text>
<text transform="translate(7.1,589.2) rotate(-90)" font-size="9.5" text-anchor="middle" fill="#1a1a1a">ChIP (% of input)</text>
<text transform="translate(65.1,663.8) rotate(-45) scale(0.78,1)" font-size="10" text-anchor="end" fill="#1a1a1a">upstream</text>
<text transform="translate(124.0,663.8) rotate(-45) scale(0.78,1)" font-size="10" text-anchor="end" fill="#1a1a1a">promoter (-800)</text>
<text transform="translate(185.1,663.8) rotate(-45) scale(0.78,1)" font-size="10" text-anchor="end" fill="#1a1a1a">promoter (-400)</text>
<text transform="translate(239.1,663.8) rotate(-45) scale(0.78,1)" font-size="10" text-anchor="end" fill="#1a1a1a">exon</text>
<text transform="translate(302.4,663.8) rotate(-45) scale(0.78,1)" font-size="10" text-anchor="end" fill="#1a1a1a">downstream</text>
<text x="490.9" y="497.5" font-size="11.1" text-anchor="start" font-style="italic" fill="#1a1a1a">SOX4</text>
<text x="493.7" y="516.7" font-size="10.9" text-anchor="start" fill="#1a1a1a">p300</text>
<rect x="373.50" y="641.33" width="8.10" height="15.62" fill="#F4F4F4" stroke="#262626" stroke-width="0.95"/>
<rect x="384.20" y="633.96" width="8.10" height="22.99" fill="#19A9A0" stroke="#04302e" stroke-width="0.95"/>
<rect x="394.90" y="626.48" width="8.10" height="30.47" fill="#8C8C8C" stroke="#141414" stroke-width="0.95"/>
<rect x="405.60" y="644.37" width="8.10" height="12.58" fill="#C291C2" stroke="#452a48" stroke-width="0.95"/>
<rect x="431.95" y="653.05" width="8.10" height="3.90" fill="#F4F4F4" stroke="#262626" stroke-width="0.95"/>
<rect x="442.65" y="651.31" width="8.10" height="5.64" fill="#19A9A0" stroke="#04302e" stroke-width="0.95"/>
<rect x="453.35" y="651.53" width="8.10" height="5.42" fill="#8C8C8C" stroke="#141414" stroke-width="0.95"/>
<rect x="464.05" y="654.35" width="8.10" height="2.60" fill="#C291C2" stroke="#452a48" stroke-width="0.95"/>
<rect x="490.40" y="636.67" width="8.10" height="20.28" fill="#F4F4F4" stroke="#262626" stroke-width="0.95"/>
<rect x="501.10" y="529.20" width="8.10" height="127.75" fill="#19A9A0" stroke="#04302e" stroke-width="0.95"/>
<rect x="511.80" y="635.48" width="8.10" height="21.47" fill="#8C8C8C" stroke="#141414" stroke-width="0.95"/>
<rect x="522.50" y="642.63" width="8.10" height="14.32" fill="#C291C2" stroke="#452a48" stroke-width="0.95"/>
<rect x="548.65" y="630.71" width="8.10" height="26.24" fill="#F4F4F4" stroke="#262626" stroke-width="0.95"/>
<rect x="559.35" y="624.42" width="8.10" height="32.53" fill="#19A9A0" stroke="#04302e" stroke-width="0.95"/>
<rect x="570.05" y="624.42" width="8.10" height="32.53" fill="#8C8C8C" stroke="#141414" stroke-width="0.95"/>
<rect x="580.75" y="634.72" width="8.10" height="22.23" fill="#C291C2" stroke="#452a48" stroke-width="0.95"/>
<rect x="606.50" y="623.76" width="8.10" height="33.19" fill="#F4F4F4" stroke="#262626" stroke-width="0.95"/>
<rect x="617.20" y="567.37" width="8.10" height="89.58" fill="#19A9A0" stroke="#04302e" stroke-width="0.95"/>
<rect x="627.90" y="622.79" width="8.10" height="34.16" fill="#8C8C8C" stroke="#141414" stroke-width="0.95"/>
<rect x="638.60" y="633.63" width="8.10" height="23.32" fill="#C291C2" stroke="#452a48" stroke-width="0.95"/>
<line x1="364.70" y1="627.45" x2="648.0" y2="627.45" stroke="#222" stroke-width="0.9" stroke-dasharray="5.9 5.56"/>
<path d="M377.55 640.03 V641.33 M375.85 640.03 H379.25" stroke="#111" stroke-width="0.95" fill="none"/>
<path d="M377.55 641.33 V642.63 M375.85 642.63 H379.25" stroke="#111" stroke-width="0.95" fill="none"/>
<path d="M388.25 630.05 V633.96 M386.55 630.05 H389.95" stroke="#111" stroke-width="0.95" fill="none"/>
<path d="M388.25 633.96 V637.86 M386.55 637.86 H389.95" stroke="#111" stroke-width="0.95" fill="none"/>
<path d="M398.95 621.92 V626.48 M397.25 621.92 H400.65" stroke="#111" stroke-width="0.95" fill="none"/>
<path d="M398.95 626.48 V631.03 M397.25 631.03 H400.65" stroke="#111" stroke-width="0.95" fill="none"/>
<path d="M409.65 642.42 V644.37 M407.95 642.42 H411.35" stroke="#111" stroke-width="0.95" fill="none"/>
<path d="M409.65 644.37 V646.32 M407.95 646.32 H411.35" stroke="#111" stroke-width="0.95" fill="none"/>
<path d="M436.00 652.61 V653.05 M434.30 652.61 H437.70" stroke="#111" stroke-width="0.95" fill="none"/>
<path d="M436.00 653.05 V653.48 M434.30 653.48 H437.70" stroke="#111" stroke-width="0.95" fill="none"/>
<path d="M446.70 650.44 V651.31 M445.00 650.44 H448.40" stroke="#111" stroke-width="0.95" fill="none"/>
<path d="M446.70 651.31 V652.18 M445.00 652.18 H448.40" stroke="#111" stroke-width="0.95" fill="none"/>
<path d="M457.40 651.20 V651.53 M455.70 651.20 H459.10" stroke="#111" stroke-width="0.95" fill="none"/>
<path d="M457.40 651.53 V651.85 M455.70 651.85 H459.10" stroke="#111" stroke-width="0.95" fill="none"/>
<path d="M468.10 653.91 V654.35 M466.40 653.91 H469.80" stroke="#111" stroke-width="0.95" fill="none"/>
<path d="M468.10 654.35 V654.78 M466.40 654.78 H469.80" stroke="#111" stroke-width="0.95" fill="none"/>
<path d="M494.45 636.34 V636.67 M492.75 636.34 H496.15" stroke="#111" stroke-width="0.95" fill="none"/>
<path d="M494.45 636.67 V637.00 M492.75 637.00 H496.15" stroke="#111" stroke-width="0.95" fill="none"/>
<path d="M505.15 528.76 V529.20 M503.45 528.76 H506.85" stroke="#111" stroke-width="0.95" fill="none"/>
<path d="M505.15 529.20 V529.63 M503.45 529.63 H506.85" stroke="#111" stroke-width="0.95" fill="none"/>
<path d="M515.85 631.46 V635.48 M514.15 631.46 H517.55" stroke="#111" stroke-width="0.95" fill="none"/>
<path d="M515.85 635.48 V639.49 M514.15 639.49 H517.55" stroke="#111" stroke-width="0.95" fill="none"/>
<path d="M526.55 641.33 V642.63 M524.85 641.33 H528.25" stroke="#111" stroke-width="0.95" fill="none"/>
<path d="M526.55 642.63 V643.94 M524.85 643.94 H528.25" stroke="#111" stroke-width="0.95" fill="none"/>
<path d="M552.70 627.67 V630.71 M551.00 627.67 H554.40" stroke="#111" stroke-width="0.95" fill="none"/>
<path d="M552.70 630.71 V633.74 M551.00 633.74 H554.40" stroke="#111" stroke-width="0.95" fill="none"/>
<path d="M563.40 617.91 V624.42 M561.70 617.91 H565.10" stroke="#111" stroke-width="0.95" fill="none"/>
<path d="M563.40 624.42 V630.92 M561.70 630.92 H565.10" stroke="#111" stroke-width="0.95" fill="none"/>
<path d="M574.10 623.98 V624.42 M572.40 623.98 H575.80" stroke="#111" stroke-width="0.95" fill="none"/>
<path d="M574.10 624.42 V624.85 M572.40 624.85 H575.80" stroke="#111" stroke-width="0.95" fill="none"/>
<path d="M584.80 631.79 V634.72 M583.10 631.79 H586.50" stroke="#111" stroke-width="0.95" fill="none"/>
<path d="M584.80 634.72 V637.65 M583.10 637.65 H586.50" stroke="#111" stroke-width="0.95" fill="none"/>
<path d="M610.55 620.29 V623.76 M608.85 620.29 H612.25" stroke="#111" stroke-width="0.95" fill="none"/>
<path d="M610.55 623.76 V627.23 M608.85 627.23 H612.25" stroke="#111" stroke-width="0.95" fill="none"/>
<path d="M621.25 566.72 V567.37 M619.55 566.72 H622.95" stroke="#111" stroke-width="0.95" fill="none"/>
<path d="M621.25 567.37 V568.02 M619.55 568.02 H622.95" stroke="#111" stroke-width="0.95" fill="none"/>
<path d="M631.95 618.45 V622.79 M630.25 618.45 H633.65" stroke="#111" stroke-width="0.95" fill="none"/>
<path d="M631.95 622.79 V627.13 M630.25 627.13 H633.65" stroke="#111" stroke-width="0.95" fill="none"/>
<path d="M642.65 630.16 V633.63 M640.95 630.16 H644.35" stroke="#111" stroke-width="0.95" fill="none"/>
<path d="M642.65 633.63 V637.10 M640.95 637.10 H644.35" stroke="#111" stroke-width="0.95" fill="none"/>
<path d="M363.75 656.95 H648.5" fill="none" stroke="#505050" stroke-width="1.3"/>
<path d="M364.4 505.12 V656.95" fill="none" stroke="#383838" stroke-width="1"/>
<line x1="362.59999999999997" y1="656.95" x2="364.4" y2="656.95" stroke="#383838" stroke-width="0.85"/>
<text x="360.2" y="659.80" font-size="8" text-anchor="end" fill="#222" style="stroke-width:0.12px">0</text>
<line x1="362.59999999999997" y1="635.26" x2="364.4" y2="635.26" stroke="#383838" stroke-width="0.85"/>
<text x="360.2" y="638.11" font-size="8" text-anchor="end" fill="#222" style="stroke-width:0.12px">0.2</text>
<line x1="362.59999999999997" y1="613.57" x2="364.4" y2="613.57" stroke="#383838" stroke-width="0.85"/>
<text x="360.2" y="616.42" font-size="8" text-anchor="end" fill="#222" style="stroke-width:0.12px">0.4</text>
<line x1="362.59999999999997" y1="591.88" x2="364.4" y2="591.88" stroke="#383838" stroke-width="0.85"/>
<text x="360.2" y="594.73" font-size="8" text-anchor="end" fill="#222" style="stroke-width:0.12px">0.6</text>
<line x1="362.59999999999997" y1="570.19" x2="364.4" y2="570.19" stroke="#383838" stroke-width="0.85"/>
<text x="360.2" y="573.04" font-size="8" text-anchor="end" fill="#222" style="stroke-width:0.12px">0.8</text>
<line x1="362.59999999999997" y1="548.50" x2="364.4" y2="548.50" stroke="#383838" stroke-width="0.85"/>
<text x="360.2" y="551.35" font-size="8" text-anchor="end" fill="#222" style="stroke-width:0.12px">1.0</text>
<line x1="362.59999999999997" y1="526.81" x2="364.4" y2="526.81" stroke="#383838" stroke-width="0.85"/>
<text x="360.2" y="529.66" font-size="8" text-anchor="end" fill="#222" style="stroke-width:0.12px">1.2</text>
<line x1="362.59999999999997" y1="505.12" x2="364.4" y2="505.12" stroke="#383838" stroke-width="0.85"/>
<text x="360.2" y="507.97" font-size="8" text-anchor="end" fill="#222" style="stroke-width:0.12px">1.4</text>
<text transform="translate(342.1,581) rotate(-90)" font-size="9.5" text-anchor="middle" fill="#1a1a1a">ChIP (% of input)</text>
<text transform="translate(399.6,663.8) rotate(-45) scale(0.78,1)" font-size="10" text-anchor="end" fill="#1a1a1a">upstream</text>
<text transform="translate(458.5,663.8) rotate(-45) scale(0.78,1)" font-size="10" text-anchor="end" fill="#1a1a1a">promoter (-800)</text>
<text transform="translate(519.6,663.8) rotate(-45) scale(0.78,1)" font-size="10" text-anchor="end" fill="#1a1a1a">promoter (-400)</text>
<text transform="translate(573.6,663.8) rotate(-45) scale(0.78,1)" font-size="10" text-anchor="end" fill="#1a1a1a">exon</text>
<text transform="translate(636.8,663.8) rotate(-45) scale(0.78,1)" font-size="10" text-anchor="end" fill="#1a1a1a">downstream</text>
<rect x="565.1999999999999" y="438.6" width="7.2" height="6.6" fill="#F4F4F4" stroke="#262626" stroke-width="1"/>
<text x="578.3" y="445.0" font-size="11" text-anchor="start" fill="#1a1a1a">control</text>
<rect x="565.1999999999999" y="455.9" width="7.2" height="6.6" fill="#19A9A0" stroke="#262626" stroke-width="1"/>
<text x="577.4" y="462.3" font-size="11" text-anchor="start" fill="#1a1a1a">+ Wnt3a</text>
<rect x="565.1999999999999" y="475.2" width="7.2" height="6.6" fill="#8C8C8C" stroke="#262626" stroke-width="1"/>
<text x="576.8" y="481.6" font-size="11" text-anchor="start" fill="#1a1a1a">control</text>
<rect x="565.1999999999999" y="495.9" width="7.2" height="6.6" fill="#C291C2" stroke="#262626" stroke-width="1"/>
<text x="577.4" y="502.3" font-size="11" text-anchor="start" fill="#1a1a1a">+ Wnt3a</text>
<line x1="622.8" y1="471.59999999999997" x2="622.8" y2="507.2" stroke="#444" stroke-width="1.2"/>
<text x="627.6" y="492.2" font-size="11" text-anchor="start" fill="#1a1a1a">+ Metformin</text>
</svg></body></html>
